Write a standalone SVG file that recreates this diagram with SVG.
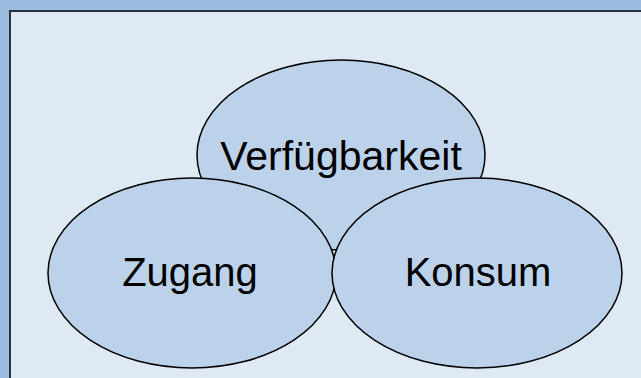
<svg xmlns="http://www.w3.org/2000/svg" width="641" height="378" viewBox="0 0 641 378">
  <style>
    .bubble { fill: #bcd2ea; stroke: #000000; stroke-width: 1.5; }
    .label { font-family: "Liberation Sans", Arial, sans-serif; font-size: 40px; fill: #000000; text-anchor: middle; }
  </style>
  <!-- frame -->
  <rect x="0" y="0" width="641" height="378" fill="#9dbde0"/>
  <rect x="10" y="11" width="640" height="380" fill="#dfe9f4" stroke="#27313c" stroke-width="2"/>

  <g id="verfuegbarkeit">
    <ellipse class="bubble" cx="341" cy="155" rx="144" ry="95"/>
    <text class="label" x="341" y="170" style="font-size:41px">Verfügbarkeit</text>
  </g>
  <g id="zugang">
    <ellipse class="bubble" cx="192" cy="273" rx="144" ry="95"/>
    <text class="label" x="190" y="286">Zugang</text>
  </g>
  <g id="konsum">
    <ellipse class="bubble" cx="477" cy="273" rx="145" ry="95"/>
    <text class="label" x="478" y="286">Konsum</text>
  </g>
  <g id="connectors"/>
</svg>
